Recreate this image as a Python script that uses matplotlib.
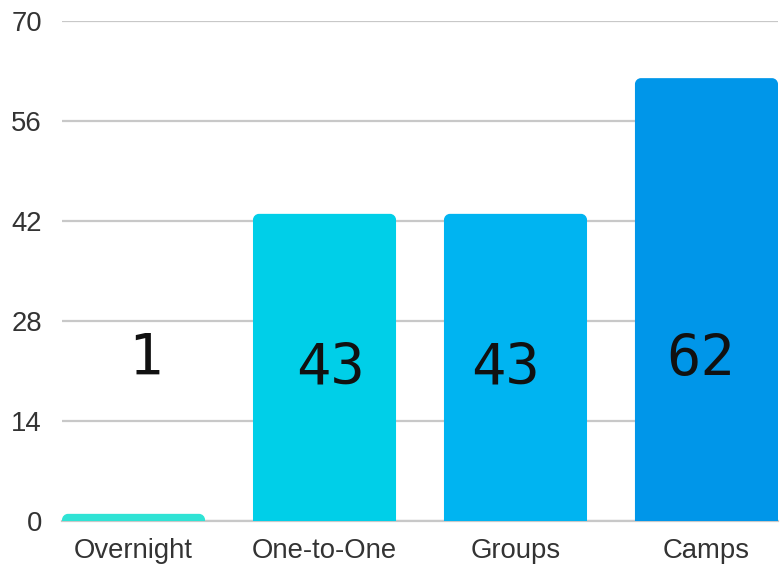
import matplotlib
matplotlib.use("Agg")
import matplotlib.pyplot as plt
from matplotlib.path import Path
from matplotlib.patches import PathPatch

categories = ["Overnight", "One-to-One", "Groups", "Camps"]
values = [1, 43, 43, 62]
colors = ["#2fe3d5", "#00cfe8", "#00b4f1", "#0096e9"]
yticks = [0, 14, 28, 42, 56, 70]

# label placement (style): x offset in pixels from bar centre, baseline y in pixels
label_dx_px = [12, 5.5, -9.5, -5.5]
label_base_px = [375, 384, 384, 376]

W, H = 780, 566
fig = plt.figure(figsize=(W / 100, H / 100), dpi=100)
ax = fig.add_axes([62 / W, (566 - 521) / H, (778 - 62) / W, 500 / H])

x = list(range(len(categories)))
bw = 0.749
bars = ax.bar(x, values, width=bw, color=colors, zorder=3)
ax.set_xlim(-bw / 2, len(categories) - 1 + bw / 2)
ax.set_ylim(0, 70)

px_per_x = 191.0
px_per_y = 500 / 70.0

# rounded top corners
rx = 6 / px_per_x
ry_unit = 6 / px_per_y
k = 0.5523
for b, c in zip(bars, colors):
    x0, y0, w, h = b.get_x(), b.get_y(), b.get_width(), b.get_height()
    ry = min(ry_unit, h)
    x1, y1 = x0 + w, y0 + h
    verts = [
        (x0, y0), (x0, y1 - ry),
        (x0, y1 - ry + k * ry), (x0 + rx - k * rx, y1), (x0 + rx, y1),
        (x1 - rx, y1),
        (x1 - rx + k * rx, y1), (x1, y1 - ry + k * ry), (x1, y1 - ry),
        (x1, y0), (x0, y0),
    ]
    codes = [Path.MOVETO, Path.LINETO,
             Path.CURVE4, Path.CURVE4, Path.CURVE4,
             Path.LINETO,
             Path.CURVE4, Path.CURVE4, Path.CURVE4,
             Path.LINETO, Path.CLOSEPOLY]
    ax.add_patch(PathPatch(Path(verts, codes), facecolor=c, edgecolor="none", zorder=3))
    b.set_visible(False)

for xi, v, dx, by in zip(x, values, label_dx_px, label_base_px):
    ax.text(xi + dx / px_per_x, (521 - by) / px_per_y, str(v), ha="center",
            va="baseline", fontsize=41, family="DejaVu Sans Mono",
            color="#111111", zorder=5)

ax.set_yticks(yticks)
ax.set_xticks(x)
ax.set_xticklabels(categories)
ax.grid(axis="y", color="#c8c8c8", linewidth=1.6, zorder=0)
ax.set_axisbelow(True)
for s in ["top", "right", "left"]:
    ax.spines[s].set_visible(False)
ax.spines["bottom"].set_color("#c8c8c8")
ax.spines["bottom"].set_linewidth(1.6)
ax.tick_params(axis="both", length=0, labelsize=19.8, labelcolor="#333333")
ax.tick_params(axis="y", pad=14.4)
ax.tick_params(axis="x", pad=12)
for lab in ax.get_xticklabels() + ax.get_yticklabels():
    lab.set_family("Liberation Sans")

fig.savefig("out.png", dpi=100)
